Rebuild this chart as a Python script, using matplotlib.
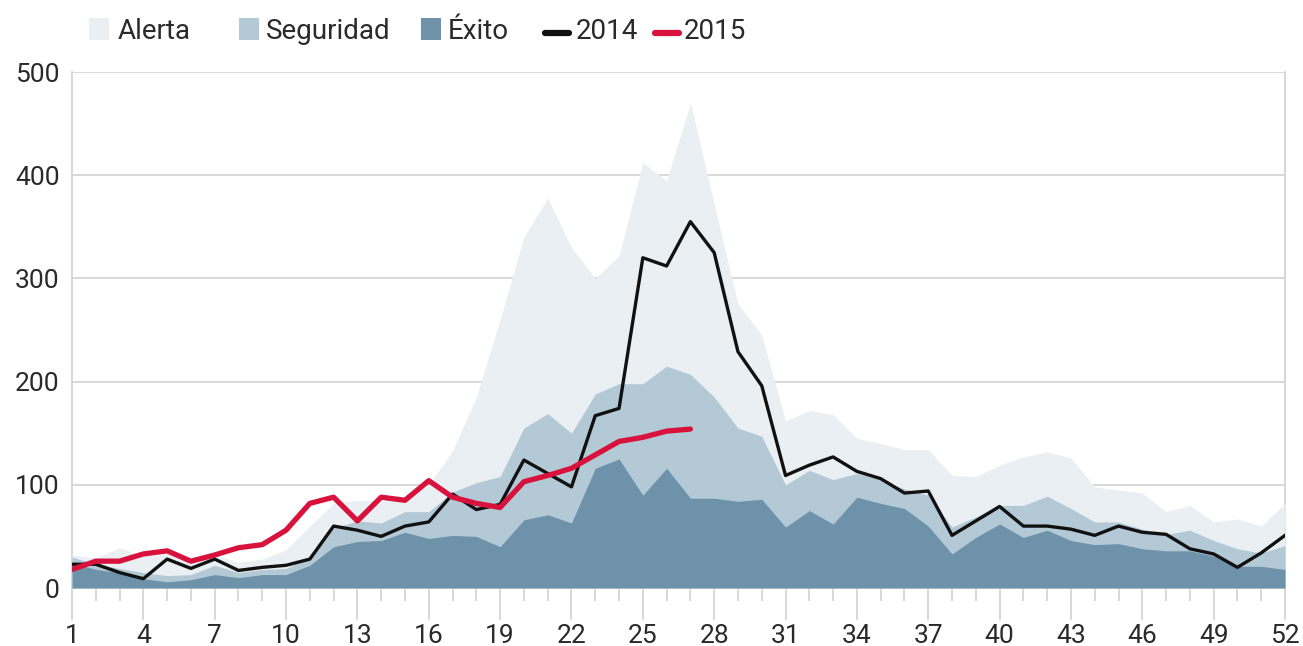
import numpy as np
import matplotlib
matplotlib.use('Agg')
import matplotlib.pyplot as plt
from matplotlib.patches import Rectangle
from matplotlib.lines import Line2D

weeks = np.arange(1, 53)

alerta = [32, 29, 39, 31, 33, 27, 32, 25, 28, 37, 60, 82, 85, 85, 87, 100, 133, 185,
          260, 340, 378, 330, 300, 322, 412, 395, 470, 372, 275, 245, 162, 172, 168,
          145, 140, 134, 134, 109, 108, 119, 127, 132, 126, 98, 95, 92, 74, 80, 64, 67,
          60, 82]
seguridad = [30, 23, 19, 15, 12, 13, 22, 15, 18, 19, 30, 58, 65, 63, 74, 74, 93, 102,
             108, 155, 169, 150, 188, 198, 198, 215, 207, 185, 155, 147, 100, 114, 105,
             111, 105, 96, 90, 59, 69, 80, 80, 89, 77, 64, 64, 57, 52, 56, 46, 38, 34, 41]
exito = [24, 18, 15, 9, 6, 8, 13, 10, 13, 13, 22, 40, 45, 46, 54, 48, 51, 50, 40, 66,
         71, 63, 116, 125, 90, 116, 87, 87, 84, 86, 59, 75, 62, 88, 82, 77, 60, 33, 49,
         62, 49, 56, 46, 42, 43, 38, 36, 36, 31, 21, 21, 18]
y2014 = [23, 23, 15, 9, 28, 19, 28, 17, 20, 22, 28, 60, 56, 50, 60, 64, 91, 76, 81, 124,
         111, 98, 167, 174, 320, 312, 355, 325, 229, 196, 109, 119, 127, 113, 106, 92,
         94, 51, 65, 79, 60, 60, 57, 51, 60, 54, 52, 38, 33, 20, 34, 51]
y2015 = [18, 26, 26, 33, 36, 26, 32, 39, 42, 56, 82, 88, 65, 88, 85, 104, 88, 82, 78,
         103, 109, 116, 129, 142, 146, 152, 154]

C_ALERTA = '#e9eff3'
C_SEG = '#b4c9d6'
C_EXITO = '#6d92aa'
C_2014 = '#111111'
C_2015 = '#d8123c'
C_GRID = '#d2d2d2'
C_TEXT = '#2a2a2a'

plt.rcParams['font.family'] = ['Roboto', 'DejaVu Sans']

W, H = 1303, 646
fig = plt.figure(figsize=(W / 100, H / 100), dpi=100)
ax = fig.add_axes([72 / W, 1 - 588 / H, (1285 - 72) / W, (588 - 72) / H])

ax.fill_between(weeks, 0, alerta, color=C_ALERTA, lw=0, zorder=1)
ax.fill_between(weeks, 0, seguridad, color=C_SEG, lw=0, zorder=2)
ax.fill_between(weeks, 0, exito, color=C_EXITO, lw=0, zorder=3)
ax.plot(weeks, y2014, color=C_2014, lw=2.4, zorder=5)
ax.plot(weeks[:len(y2015)], y2015, color=C_2015, lw=3.8, zorder=6,
        solid_capstyle='round')

ax.set_xlim(1, 52)
ax.set_ylim(0, 500)

ax.set_yticks(range(0, 501, 100))
ax.set_yticks([0], minor=True)
ax.yaxis.grid(True, color=C_GRID, lw=1.2, zorder=0)
ax.set_axisbelow(True)
ax.tick_params(axis='y', which='major', length=0, pad=9, labelsize=19,
               labelcolor=C_TEXT)
ax.tick_params(axis='y', which='minor', length=7, color=C_GRID, width=1.2)

ax.set_xticks(range(1, 53, 3))
ax.set_xticks(weeks, minor=True)
ax.tick_params(axis='x', which='major', length=23, color=C_GRID, width=1.2,
               pad=3, labelsize=19, labelcolor=C_TEXT)
ax.tick_params(axis='x', which='minor', length=9, color=C_GRID, width=1.2)

for s in ['top', 'bottom']:
    ax.spines[s].set_visible(False)
for s in ['left', 'right']:
    ax.spines[s].set_color(C_GRID)
    ax.spines[s].set_linewidth(1.2)
    ax.spines[s].set_zorder(0.5)

# legend drawn by hand (uneven spacing in the original)
def fx(px):
    return px / W

def fy(py):
    return 1 - py / H

for x0, col in [(89, C_ALERTA), (239, C_SEG), (421, C_EXITO)]:
    fig.patches.append(Rectangle((fx(x0), fy(40)), 20 / W, 22 / H,
                                 transform=fig.transFigure, facecolor=col,
                                 edgecolor='none'))
for x0, col in [(545, C_2014), (655, C_2015)]:
    fig.add_artist(Line2D([fx(x0), fx(x0 + 24)], [fy(33), fy(33)],
                          transform=fig.transFigure, color=col, lw=4.5,
                          solid_capstyle='round'))
for x0, lab in [(118, 'Alerta'), (266, 'Seguridad'), (448, 'Éxito'),
                (576, '2014'), (684, '2015')]:
    fig.text(fx(x0), fy(39), lab, fontsize=20, color=C_TEXT,
             ha='left', va='baseline')

fig.savefig('out.png', dpi=100)
